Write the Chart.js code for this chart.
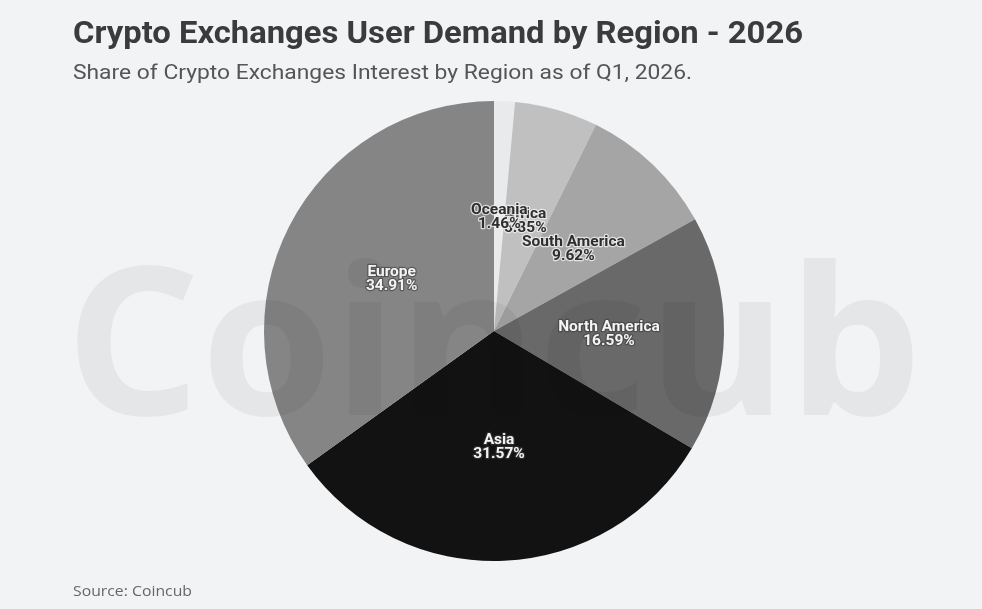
<!DOCTYPE html>
<html>
<head>
<meta charset="utf-8">
<script src="https://cdn.jsdelivr.net/npm/chart.js@4.4.1/dist/chart.umd.min.js"></script>
<style>
    html, body { margin: 0; padding: 0; background: #f2f3f5; }
    #wrap { width: 982px; height: 609px; position: relative; }
</style>
</head>
<body>
<div id="wrap"><canvas id="regionChart" width="982" height="609"></canvas></div>
<script>
const regions = ['Oceania', 'Africa', 'South America', 'North America', 'Asia', 'Europe'];
const shares = [1.46, 5.85, 9.62, 16.59, 31.57, 34.91];
const sliceColors = ['#e9eaec', '#c0c0c1', '#a5a5a6', '#69696a', '#121212', '#858586'];
const labelColors = ['#2e2e2e', '#2e2e2e', '#2e2e2e', '#f4f4f4', '#f4f4f4', '#f4f4f4'];

const titleText = 'Crypto Exchanges User Demand by Region - 2026';
const subtitleText = 'Share of Crypto Exchanges Interest by Region as of Q1, 2026.';
const sourceText = 'Source: Coincub';

// squeeze or stretch a line of text so it spans the given width
function fitText(ctx, text, x, y, width) {
    const w = ctx.measureText(text).width;
    ctx.save();
    ctx.translate(x, y);
    ctx.scale(width / w, 1);
    ctx.fillText(text, 0, 0);
    ctx.restore();
}

// title, subtitle, source and the faint watermark
const decorPlugin = {
    id: 'decor',
    beforeDraw(chart) {
        const ctx = chart.ctx;
        ctx.save();
        ctx.fillStyle = '#f2f3f5';
        ctx.fillRect(0, 0, chart.width, chart.height);

        ctx.textAlign = 'left';
        ctx.textBaseline = 'alphabetic';
        ctx.fillStyle = '#3b3b3d';
        ctx.font = 'bold 32px "Roboto", sans-serif';
        fitText(ctx, titleText, 73, 43, 730);

        ctx.fillStyle = '#555557';
        ctx.font = '21px "Roboto", sans-serif';
        fitText(ctx, subtitleText, 73, 79, 619);

        ctx.fillStyle = '#66676a';
        ctx.font = '15px "Open Sans", sans-serif';
        fitText(ctx, sourceText, 73, 596, 119);
        ctx.restore();
    },
    afterDatasetsDraw(chart) {
        const ctx = chart.ctx;
        ctx.save();
        ctx.font = 'bold 206px "Open Sans", sans-serif';
        ctx.fillStyle = 'rgba(0, 0, 0, 0.05)';
        ctx.textBaseline = 'alphabetic';
        fitText(ctx, 'Coincub', 65, 415, 857);
        ctx.restore();
    }
};

// name + percentage at the middle of each slice (last slice first, so Oceania ends on top)
const sliceLabelPlugin = {
    id: 'sliceLabels',
    afterDraw(chart) {
        const ctx = chart.ctx;
        const meta = chart.getDatasetMeta(0);
        ctx.save();
        ctx.textAlign = 'center';
        ctx.textBaseline = 'middle';
        ctx.font = 'bold 15.5px "Roboto", sans-serif';
        ctx.lineJoin = 'round';
        for (let i = meta.data.length - 1; i >= 0; i--) {
            const pos = meta.data[i].tooltipPosition();
            const lines = [regions[i], shares[i].toFixed(2) + '%'];
            lines.forEach((line, j) => {
                const y = pos.y - 6 + j * 14;
                ctx.lineWidth = 2.5;
                ctx.strokeStyle = labelColors[i] === '#2e2e2e' ? 'rgba(240,240,240,0.8)' : 'rgba(60,60,60,0.6)';
                ctx.strokeText(line, pos.x, y);
                ctx.fillStyle = labelColors[i];
                ctx.fillText(line, pos.x, y);
            });
        }
        ctx.restore();
    }
};

const ctx = document.getElementById('regionChart').getContext('2d');
new Chart(ctx, {
    type: 'pie',
    data: {
        labels: regions,
        datasets: [{
            label: 'Share of interest',
            data: shares,
            backgroundColor: sliceColors,
            borderWidth: 0
        }]
    },
    options: {
        responsive: false,
        animation: false,
        layout: {
            padding: { top: 101, bottom: 48, left: 264, right: 258 }
        },
        plugins: {
            legend: { display: false },
            tooltip: { enabled: false },
            title: { display: false }
        }
    },
    plugins: [decorPlugin, sliceLabelPlugin]
});
</script>
</body>
</html>
